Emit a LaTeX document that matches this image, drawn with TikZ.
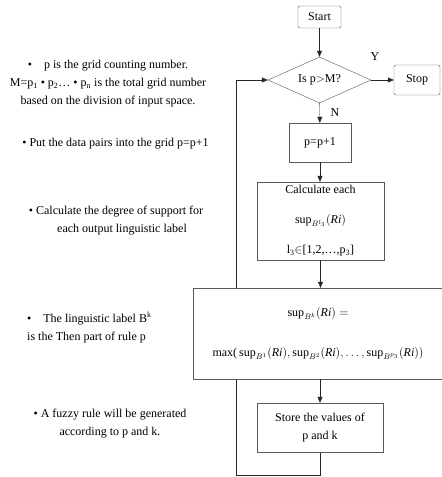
\documentclass[tikz,border=0pt]{standalone}
\usepackage{fontspec}
\setmainfont{Liberation Serif}
\usetikzlibrary{shapes.geometric,arrows.meta}
\pgfdeclarelayer{background}
\pgfsetlayers{background,main}

\begin{document}
\begin{tikzpicture}[x=1pt, y=-1pt,
    every node/.style={font=\fontsize{12}{18}\selectfont},
    box/.style={draw=black!65, fill=white, align=center, inner sep=0pt},
    note/.style={align=center, inner sep=0pt},
    flow/.style={-{Triangle[length=6pt,width=5pt]}, black!85}]
    \useasboundingbox (0,0) rectangle (442,477);

    % Draw the flow chart boxes
    \node[box, rounded corners=2pt, minimum width=43, minimum height=22] (start) at (319.5,17) {Start};
    \node[box, diamond, aspect=2.2, minimum width=103, minimum height=46] (test) at (319.5,80) {Is p$>$M?};
    \node[box, rounded corners=2pt, minimum width=46, minimum height=30] (stop) at (417,80) {Stop};
    \node[box, minimum width=62, minimum height=39] (incr) at (320,142.5) {p=p+1};
    \node[box, minimum width=127, minimum height=78] (calc) at (320.5,221)
        {Calculate each\\[12pt] $\sup_{B^{l_3}}(\mathit{Ri})$\\[12pt] l\textsubscript{3}$\in$[1,2,…,p\textsubscript{3}]};
    \node[box, minimum width=250, minimum height=91] (maxsup) at (318,333.5)
        {$\sup_{B^{k}}(\mathit{Ri})=$\\[22pt] max($\,\sup_{B^{1}}(\mathit{Ri}),\sup_{B^{2}}(\mathit{Ri}),\ldots,\sup_{B^{p_3}}(\mathit{Ri}))$};
    \node[box, minimum width=126, minimum height=49] (store) at (320,427.5) {Store the values of\\ p and k};

    % Labels for the branches
    \node (yes) at (375,57) {Y};
    \node (no) at (335,113) {N};

    % Draw the arrows
    \draw[flow] (start) -- (test);
    \draw[flow] (test) -- (stop);
    \draw[flow] (test) -- (incr);
    \draw[flow] (incr) -- (incr |- calc.north);
    \draw[flow] (calc) -- (calc.south |- maxsup.north);
    \draw[flow] (store.north |- maxsup.south) -- (store);

    % Draw the loop back to the test
    \coordinate (loopa) at (320,475);
    \coordinate (loopb) at (236,475);
    \begin{pgfonlayer}{background}
        \draw[flow] (store) -- (loopa) -- (loopb) |- (test.west);
    \end{pgfonlayer}

    % Notes on the left
    \node[note] (note1) at (108,84) {•\quad p is the grid counting number.\\ M=p\textsubscript{1} • p\textsubscript{2}… • p\textsubscript{n} is the total grid number\\ based on the division of input space.};
    \node[note] (note2) at (115.5,144) {• Put the data pairs into the grid p=p+1};
    \node[note] (note3) at (116,221) {• Calculate the degree of support for\\ \quad each output linguistic label};
    \node[note, align=left, anchor=west] (note4) at (27,327.5) {•\quad The linguistic label B\textsuperscript{k}\\ is the Then part of rule p};
    \node[note] (note5) at (110,424) {• A fuzzy rule will be generated\\ according to p and k.};
\end{tikzpicture}
\end{document}
